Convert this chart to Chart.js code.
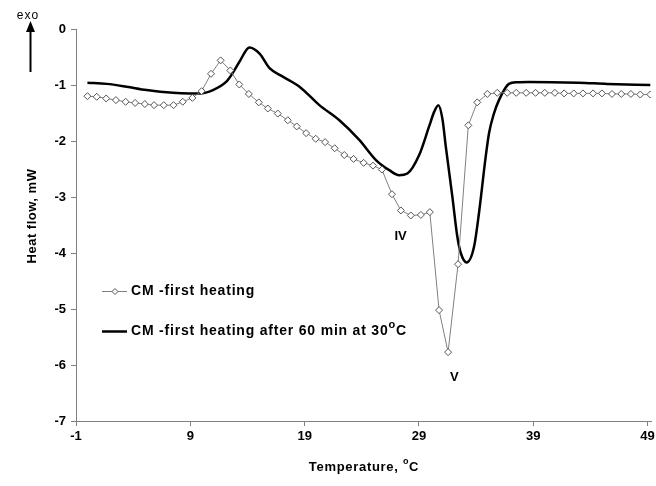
<!DOCTYPE html>
<html>
<head>
<meta charset="utf-8">
<script src="https://cdn.jsdelivr.net/npm/chart.js@4/dist/chart.umd.min.js"></script>
<style>
  html, body { margin: 0; padding: 0; background: #fff; }
  #wrap { width: 656px; height: 486px; }
</style>
</head>
<body>
<div id="wrap"><canvas id="grafica"></canvas></div>
<script>
// CM - first heating (diamond markers)
const tempFirst = [0.0, 0.81, 1.64, 2.49, 3.34, 4.17, 5.02, 5.83, 6.68, 7.53,
  8.34, 9.18, 9.99, 10.81, 11.65, 12.50, 13.28, 14.12, 14.99, 15.78,
  16.65, 17.53, 18.31, 19.13, 19.97, 20.79, 21.63, 22.47, 23.28, 24.16,
  24.98, 25.76, 26.64, 27.42, 28.29, 29.17, 29.95, 30.76, 31.55, 32.42,
  33.32, 34.10, 34.98, 35.85, 36.72, 37.51, 38.38, 39.20, 40.01, 40.89,
  41.70, 42.54, 43.35, 44.23, 45.01, 45.89, 46.70, 47.54, 48.36, 49.24];
const flowFirst = [-1.20, -1.21, -1.24, -1.27, -1.30, -1.32, -1.34, -1.36, -1.36, -1.36,
  -1.30, -1.23, -1.11, -0.80, -0.56, -0.74, -0.99, -1.16, -1.31, -1.42,
  -1.51, -1.63, -1.74, -1.86, -1.96, -2.02, -2.13, -2.25, -2.32, -2.39,
  -2.44, -2.51, -2.95, -3.24, -3.33, -3.32, -3.27, -5.02, -5.77, -4.20,
  -1.72, -1.31, -1.16, -1.14, -1.14, -1.14, -1.14, -1.14, -1.14, -1.14,
  -1.15, -1.15, -1.15, -1.15, -1.15, -1.16, -1.16, -1.16, -1.17, -1.17];

// CM - first heating after 60 min at 30 C (thick black line)
const tempAfter = [0.0, 1.68, 3.42, 5.17, 7.49, 8.95, 9.82, 10.98, 12.15, 12.73,
  13.31, 14.18, 15.06, 15.93, 17.09, 18.55, 20.29, 22.04, 23.78, 25.24,
  26.40, 27.27, 27.99, 29.02, 29.89, 30.33, 30.70, 31.05, 31.35, 31.92,
  32.36, 32.66, 33.18, 33.82, 34.25, 34.84, 35.13, 35.56, 36.00, 36.87,
  37.60, 38.62, 42.98, 45.45, 49.24];
const flowAfter = [-0.96, -0.98, -1.03, -1.09, -1.14, -1.15, -1.15, -1.09, -0.94, -0.78,
  -0.58, -0.33, -0.44, -0.70, -0.85, -1.03, -1.36, -1.63, -1.98, -2.34,
  -2.52, -2.61, -2.58, -2.25, -1.74, -1.48, -1.36, -1.60, -2.10, -2.99,
  -3.71, -4.00, -4.17, -3.89, -3.29, -2.28, -1.86, -1.51, -1.27, -0.98,
  -0.95, -0.945, -0.96, -0.98, -1.00];

const xTicks = [-1, 9, 19, 29, 39, 49];
const yTicks = [0, -1, -2, -3, -4, -5, -6, -7];

const seriesNames = ['CM -first heating', 'CM -first heating after 60 min at 30'];
const peakNames = ['IV', 'V'];
const peakTemp = [27.4, 32.1];
const peakFlow = [-3.71, -6.23];

const FONT = '"Liberation Sans", Arial, sans-serif';
const graph = document.querySelector('#grafica');

const extras = {
  id: 'extras',
  afterDatasetsDraw(chart) {
    const { ctx, scales: { x, y } } = chart;
    ctx.save();
    ctx.fillStyle = '#000';
    ctx.textBaseline = 'middle';

    // peak labels
    ctx.font = 'bold 13px ' + FONT;
    ctx.textAlign = 'center';
    peakNames.forEach((n, i) => {
      ctx.fillText(n, x.getPixelForValue(peakTemp[i]), y.getPixelForValue(peakFlow[i]));
    });

    // legend
    ctx.textAlign = 'left';
    ctx.strokeStyle = '#7f7f7f';
    ctx.lineWidth = 1;
    ctx.beginPath(); ctx.moveTo(102, 291.5); ctx.lineTo(127, 291.5); ctx.stroke();
    ctx.fillStyle = '#fff';
    ctx.strokeStyle = '#555';
    ctx.beginPath();
    ctx.moveTo(115, 288.5); ctx.lineTo(118, 291.5); ctx.lineTo(115, 294.5); ctx.lineTo(112, 291.5);
    ctx.closePath(); ctx.fill(); ctx.stroke();
    ctx.fillStyle = '#000';
    ctx.font = 'bold 14px ' + FONT;
    ctx.letterSpacing = '0.8px';
    ctx.fillText(seriesNames[0], 131, 291);

    ctx.strokeStyle = '#000';
    ctx.lineWidth = 2.5;
    ctx.beginPath(); ctx.moveTo(102, 331.5); ctx.lineTo(127, 331.5); ctx.stroke();
    ctx.fillText(seriesNames[1], 131, 331);
    let px = 131 + ctx.measureText(seriesNames[1]).width;
    ctx.font = 'bold 11px ' + FONT;
    ctx.fillText('o', px, 325);
    px += ctx.measureText('o').width;
    ctx.font = 'bold 14px ' + FONT;
    ctx.fillText('C', px, 331);

    // y title
    ctx.save();
    ctx.translate(32, 216);
    ctx.rotate(-Math.PI / 2);
    ctx.textAlign = 'center';
    ctx.font = 'bold 13px ' + FONT;
    ctx.letterSpacing = '0.5px';
    ctx.fillText('Heat flow, mW', 0, 0);
    ctx.restore();

    // x title
    ctx.letterSpacing = '0.7px';
    ctx.font = 'bold 13px ' + FONT;
    const t1 = 'Temperature, ';
    const w1 = ctx.measureText(t1).width;
    const wc = ctx.measureText('C').width;
    ctx.font = 'bold 9px ' + FONT;
    const wo = ctx.measureText('o').width;
    let sx = 364 - (w1 + wo + wc) / 2;
    ctx.font = 'bold 13px ' + FONT;
    ctx.fillText(t1, sx, 467);
    ctx.font = 'bold 9px ' + FONT;
    ctx.fillText('o', sx + w1, 462);
    ctx.font = 'bold 13px ' + FONT;
    ctx.fillText('C', sx + w1 + wo, 467);

    // exo arrow
    ctx.font = '12px ' + FONT;
    ctx.letterSpacing = '1px';
    ctx.textAlign = 'center';
    ctx.fillText('exo', 28, 16);
    ctx.letterSpacing = '0px';
    ctx.strokeStyle = '#000';
    ctx.lineWidth = 2;
    ctx.beginPath(); ctx.moveTo(30.5, 72); ctx.lineTo(30.5, 28); ctx.stroke();
    ctx.beginPath();
    ctx.moveTo(30.5, 21); ctx.lineTo(35, 32); ctx.lineTo(26, 32); ctx.closePath(); ctx.fill();

    ctx.restore();
  }
};

const data = {
  datasets: [
    {
      label: seriesNames[0],
      data: tempFirst.map((t, i) => ({ x: t, y: flowFirst[i] })),
      borderColor: '#808080',
      borderWidth: 1,
      pointStyle: 'rectRot',
      pointRadius: 3.5,
      pointBackgroundColor: '#fff',
      pointBorderColor: '#555',
      pointBorderWidth: 1,
      tension: 0,
      order: 1
    },
    {
      label: seriesNames[1] + '°C',
      data: tempAfter.map((t, i) => ({ x: t, y: flowAfter[i] })),
      borderColor: '#000',
      borderWidth: 2.5,
      pointRadius: 0,
      cubicInterpolationMode: 'monotone',
      order: 2
    }
  ]
};

const tickFont = { family: FONT, size: 13, weight: 'bold' };

const config = {
  type: 'line',
  data: data,
  options: {
    responsive: true,
    maintainAspectRatio: false,
    animation: false,
    devicePixelRatio: 1,
    layout: { padding: { top: 29, right: 4, left: 0, bottom: 0 } },
    plugins: { legend: { display: false }, tooltip: { enabled: false } },
    scales: {
      x: {
        type: 'linear',
        min: -1,
        max: 49.3,
        afterBuildTicks: s => { s.ticks = xTicks.map(v => ({ value: v })); },
        afterFit: s => { s.height = 65; s.paddingLeft = 0; s.paddingRight = 0; },
        ticks: { font: tickFont, color: '#000', padding: 3, maxRotation: 0, autoSkip: false },
        grid: { drawOnChartArea: false, drawTicks: true, tickLength: 5, color: '#808080' },
        border: { color: '#808080', width: 1 }
      },
      y: {
        min: -7,
        max: 0,
        afterBuildTicks: s => { s.ticks = yTicks.map(v => ({ value: v })); },
        afterFit: s => { s.width = 76; },
        ticks: { font: tickFont, color: '#000', padding: 5 },
        grid: { drawOnChartArea: false, drawTicks: true, tickLength: 5, color: '#808080' },
        border: { color: '#808080', width: 1 }
      }
    }
  },
  plugins: [extras]
};

const myChart = new Chart(graph, config);
</script>
</body>
</html>
